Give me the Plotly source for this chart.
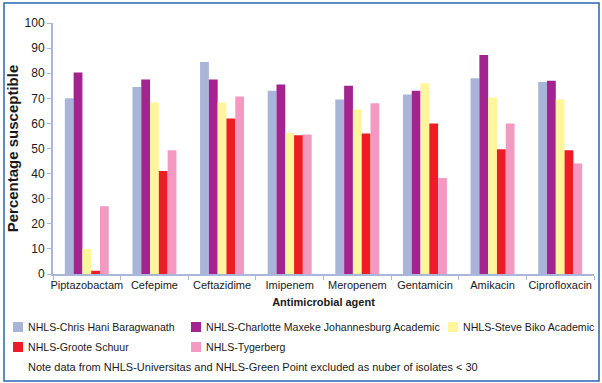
import plotly.graph_objects as go

# Antimicrobial agents (x categories)
agents = ["Piptazobactam", "Cefepime", "Ceftazidime", "Imipenem",
          "Meropenem", "Gentamicin", "Amikacin", "Ciprofloxacin"]

# Percentage susceptible per laboratory
chris_hani = [70, 74.5, 84.5, 73, 69.5, 71.5, 78, 76.5]
charlotte_maxeke = [80.3, 77.5, 77.5, 75.5, 75, 73, 87.3, 77]
steve_biko = [10, 68.3, 68.3, 56.3, 65.5, 76, 70.3, 69.5]
groote_schuur = [1.3, 41, 62, 55.3, 56, 60, 49.7, 49.3]
tygerberg = [27, 49.3, 70.7, 55.6, 68, 38.2, 60, 44]

series = [
    ("NHLS-Chris Hani Baragwanath", chris_hani, "#a8b4d8"),
    ("NHLS-Charlotte Maxeke Johannesburg Academic", charlotte_maxeke, "#a3238f"),
    ("NHLS-Steve Biko Academic", steve_biko, "#fff59b"),
    ("NHLS-Groote Schuur", groote_schuur, "#ee1d25"),
    ("NHLS-Tygerberg", tygerberg, "#f49ac2"),
]

note = "Note data from NHLS-Universitas and NHLS-Green Point excluded as nuber of isolates &lt; 30"

W, H = 602, 383
ML, MR, MT, MB = 53, 8, 23, 109
PW, PH = W - ML - MR, H - MT - MB

FONT = "Liberation Sans, Arial, sans-serif"
TXT = "#1a1a1a"
AXIS = "#aab6da"


def px(x):
    return (x - ML) / PW


def py(y):
    return (H - MB - y) / PH


fig = go.Figure()
for name, vals, color in series:
    fig.add_trace(go.Bar(x=agents, y=vals, name=name,
                         marker=dict(color=color, line=dict(width=0)),
                         showlegend=False))

shapes = []
annotations = []

# Legend laid out in three columns
legend_pos = [(13, 327), (191, 327), (448, 327), (13, 347), (191, 347)]
for (name, _, color), (lx, ly) in zip(series, legend_pos):
    shapes.append(dict(type="rect", xref="paper", yref="paper",
                       x0=px(lx), x1=px(lx + 10), y0=py(ly - 5), y1=py(ly + 5),
                       fillcolor=color, line=dict(width=0)))
    annotations.append(dict(text=name, xref="paper", yref="paper",
                            x=px(lx + 13), y=py(ly), xanchor="left", yanchor="middle",
                            showarrow=False, font=dict(family=FONT, size=10.6, color=TXT)))

annotations.append(dict(text=note, xref="paper", yref="paper",
                        x=px(26), y=py(367), xanchor="left", yanchor="middle",
                        showarrow=False, font=dict(family=FONT, size=11, color=TXT)))

# Frame around the whole figure
shapes.append(dict(type="rect", xref="paper", yref="paper",
                   x0=px(4), x1=px(599), y0=py(3), y1=py(381),
                   line=dict(color="#2a66ad", width=1.5), fillcolor="rgba(0,0,0,0)", layer="above"))

fig.update_layout(
    width=W, height=H,
    margin=dict(l=ML, r=MR, t=MT, b=MB),
    paper_bgcolor="white", plot_bgcolor="white",
    barmode="group", bargap=0.35, bargroupgap=0,
    shapes=shapes, annotations=annotations,
    font=dict(family=FONT, color=TXT),
)
fig.update_xaxes(
    type="category", range=[-0.5, len(agents) - 0.5],
    showline=True, linecolor=AXIS, linewidth=2,
    ticks="outside", tickson="boundaries", ticklen=4, tickcolor=AXIS,
    tickangle=0,
    tickfont=dict(family=FONT, size=11, color=TXT),
    title=dict(text="<b>Antimicrobial agent</b>", standoff=8,
               font=dict(family=FONT, size=11, color=TXT)),
    showgrid=False, zeroline=False,
)
fig.update_yaxes(
    range=[0, 100], dtick=10,
    showline=True, linecolor=AXIS, linewidth=2,
    ticks="outside", ticklen=4, tickcolor=AXIS,
    tickfont=dict(family=FONT, size=12, color=TXT),
    title=dict(text="<b>Percentage susceptible</b>", standoff=2,
               font=dict(family=FONT, size=15, color=TXT)),
    showgrid=False, zeroline=False,
)

fig.write_html("out.html")
